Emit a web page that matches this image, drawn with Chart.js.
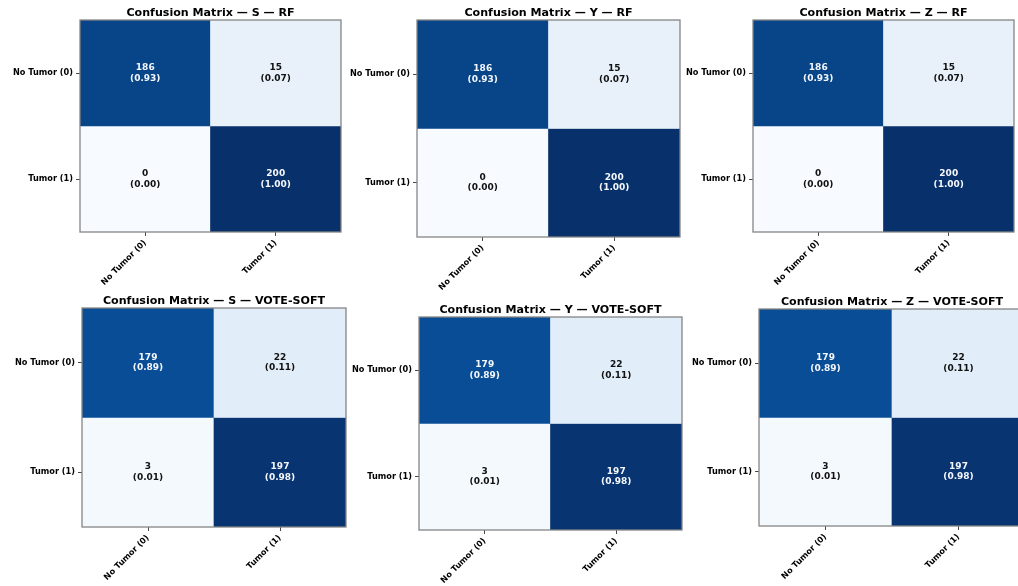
<!DOCTYPE html>
<html>
<head>
<meta charset="utf-8">
<script src="https://cdn.jsdelivr.net/npm/chart.js@4.4.1/dist/chart.umd.min.js"></script>
<style>
  html, body { margin: 0; padding: 0; background: #ffffff; }
  body { width: 1018px; height: 586px; position: relative; overflow: hidden; }
  canvas { position: absolute; }
</style>
</head>
<body>
<script>
// Class names shared by both axes
const classLabels = ['No Tumor (0)', 'Tumor (1)'];

// Confusion-matrix counts, rows = true class, columns = predicted class
const countsS_RF = [[186, 15], [0, 200]];
const countsY_RF = [[186, 15], [0, 200]];
const countsZ_RF = [[186, 15], [0, 200]];
const countsS_VoteSoft = [[179, 22], [3, 197]];
const countsY_VoteSoft = [[179, 22], [3, 197]];
const countsZ_VoteSoft = [[179, 22], [3, 197]];

const panelTitles = [
  'Confusion Matrix — S — RF',
  'Confusion Matrix — Y — RF',
  'Confusion Matrix — Z — RF',
  'Confusion Matrix — S — VOTE-SOFT',
  'Confusion Matrix — Y — VOTE-SOFT',
  'Confusion Matrix — Z — VOTE-SOFT'
];
const panelCounts = [countsS_RF, countsY_RF, countsZ_RF, countsS_VoteSoft, countsY_VoteSoft, countsZ_VoteSoft];

// Plot-area rectangles on the page: [left, right, top, bottom]
const panelRects = [
  [80, 341, 20, 232],
  [417, 680, 20, 237],
  [753, 1014, 20, 232],
  [82, 346, 308, 527],
  [419, 682, 317, 530],
  [759, 1025, 309, 526]
];

const FONT = '"DejaVu Sans", "Liberation Sans", sans-serif';
const Y_AXIS_W = 80;
const X_AXIS_H = 65;
const TITLE_H = 20;
const RIGHT_PAD = 4;

// Matplotlib "Blues" colour ramp
const bluesStops = ['#f7fbff', '#deebf7', '#c6dbef', '#9ecae1', '#6baed6', '#4292c6', '#2171b5', '#08519c', '#08306b'];
function hexToRgb(h) {
  return [parseInt(h.slice(1, 3), 16), parseInt(h.slice(3, 5), 16), parseInt(h.slice(5, 7), 16)];
}
function blues(t) {
  t = Math.max(0, Math.min(1, t));
  const pos = t * (bluesStops.length - 1);
  const i = Math.min(Math.floor(pos), bluesStops.length - 2);
  const f = pos - i;
  const a = hexToRgb(bluesStops[i]), b = hexToRgb(bluesStops[i + 1]);
  const c = a.map((v, k) => Math.round(v + (b[k] - v) * f));
  return `rgb(${c[0]},${c[1]},${c[2]})`;
}

function rowNormalize(m) {
  return m.map(row => {
    const s = row.reduce((p, q) => p + q, 0);
    return row.map(v => (s ? v / s : 0));
  });
}

// Writes "count\n(proportion)" in the middle of each cell
const cellLabelPlugin = {
  id: 'cellLabels',
  afterDatasetsDraw(chart) {
    const { ctx } = chart;
    const cm = chart.options.plugins.cellLabels;
    ctx.save();
    ctx.font = `bold 9px ${FONT}`;
    ctx.textAlign = 'center';
    ctx.textBaseline = 'middle';
    chart.data.datasets.forEach((ds, di) => {
      const meta = chart.getDatasetMeta(di);
      meta.data.forEach((bar, ci) => {
        const r = ds.rowIndex;
        const n = cm.counts[r][ci];
        const p = cm.props[r][ci];
        const cx = bar.x;
        const cy = (bar.y + bar.base) / 2;
        ctx.fillStyle = p > 0.5 ? '#f4f7fb' : '#111111';
        ctx.fillText(String(n), cx, cy - 5.4);
        ctx.fillText('(' + p.toFixed(2) + ')', cx, cy + 5.4);
      });
    });
    ctx.restore();
  }
};

// Grey frame around the plotting area and the panel title centred above it
const framePlugin = {
  id: 'frame',
  afterDraw(chart) {
    const { ctx, chartArea: a } = chart;
    ctx.save();
    ctx.strokeStyle = '#858585';
    ctx.lineWidth = 1.3;
    ctx.strokeRect(a.left, a.top, a.right - a.left, a.bottom - a.top);
    ctx.fillStyle = '#000000';
    ctx.font = `bold 11.1px ${FONT}`;
    ctx.textAlign = 'center';
    ctx.textBaseline = 'alphabetic';
    ctx.fillText(chart.options.plugins.frame.title, (a.left + a.right) / 2, a.top - 4.3);
    ctx.restore();
  }
};

panelTitles.forEach((title, idx) => {
  const [x0, x1, y0, y1] = panelRects[idx];
  const w = x1 - x0, h = y1 - y0;
  const canvas = document.createElement('canvas');
  canvas.width = w + Y_AXIS_W + RIGHT_PAD;
  canvas.height = TITLE_H + h + X_AXIS_H;
  canvas.style.left = (x0 - Y_AXIS_W) + 'px';
  canvas.style.top = (y0 - TITLE_H) + 'px';
  canvas.style.width = canvas.width + 'px';
  canvas.style.height = canvas.height + 'px';
  document.body.appendChild(canvas);

  const counts = panelCounts[idx];
  const props = rowNormalize(counts);
  const nRows = counts.length;

  // One floating-bar dataset per true-class row; row 0 sits at the top
  const datasets = counts.map((row, r) => ({
    rowIndex: r,
    data: row.map(() => [nRows - 1 - r, nRows - r]),
    backgroundColor: props[r].map(blues),
    borderWidth: 0,
    grouped: false,
    barPercentage: 1,
    categoryPercentage: 1
  }));

  const gridStyle = {
    color: 'rgba(160,160,160,0.4)',
    lineWidth: 0.8,
    borderDash: [2, 2],
    drawTicks: true,
    tickLength: 4,
    tickColor: '#333333',
    tickWidth: 0.9,
    tickBorderDash: []
  };

  new Chart(canvas, {
    type: 'bar',
    data: { labels: classLabels, datasets },
    options: {
      responsive: false,
      animation: false,
      events: [],
      layout: { padding: { left: 0, right: RIGHT_PAD, top: TITLE_H, bottom: 0 } },
      plugins: {
        legend: { display: false },
        tooltip: { enabled: false },
        title: { display: false },
        cellLabels: { counts, props },
        frame: { title }
      },
      scales: {
        x: {
          type: 'category',
          offset: true,
          z: 1,
          border: { display: false },
          grid: Object.assign({ offset: false }, gridStyle),
          ticks: {
            autoSkip: false,
            maxRotation: 45,
            minRotation: 45,
            padding: 2,
            color: '#000000',
            font: { family: FONT, size: 8.2, weight: 'bold' }
          },
          afterFit(scale) { scale.height = X_AXIS_H; }
        },
        y: {
          type: 'linear',
          min: 0,
          max: nRows,
          z: 1,
          border: { display: false },
          afterBuildTicks(scale) {
            scale.ticks = classLabels.map((_, r) => ({ value: nRows - r - 0.5 }));
          },
          grid: gridStyle,
          ticks: {
            padding: 3,
            color: '#000000',
            font: { family: FONT, size: 8.2, weight: 'bold' },
            callback(value) {
              const r = Math.round(nRows - 0.5 - value);
              return classLabels[r] !== undefined ? classLabels[r] : '';
            }
          },
          afterFit(scale) { scale.width = Y_AXIS_W; }
        }
      }
    },
    plugins: [cellLabelPlugin, framePlugin]
  });
});
</script>
</body>
</html>
